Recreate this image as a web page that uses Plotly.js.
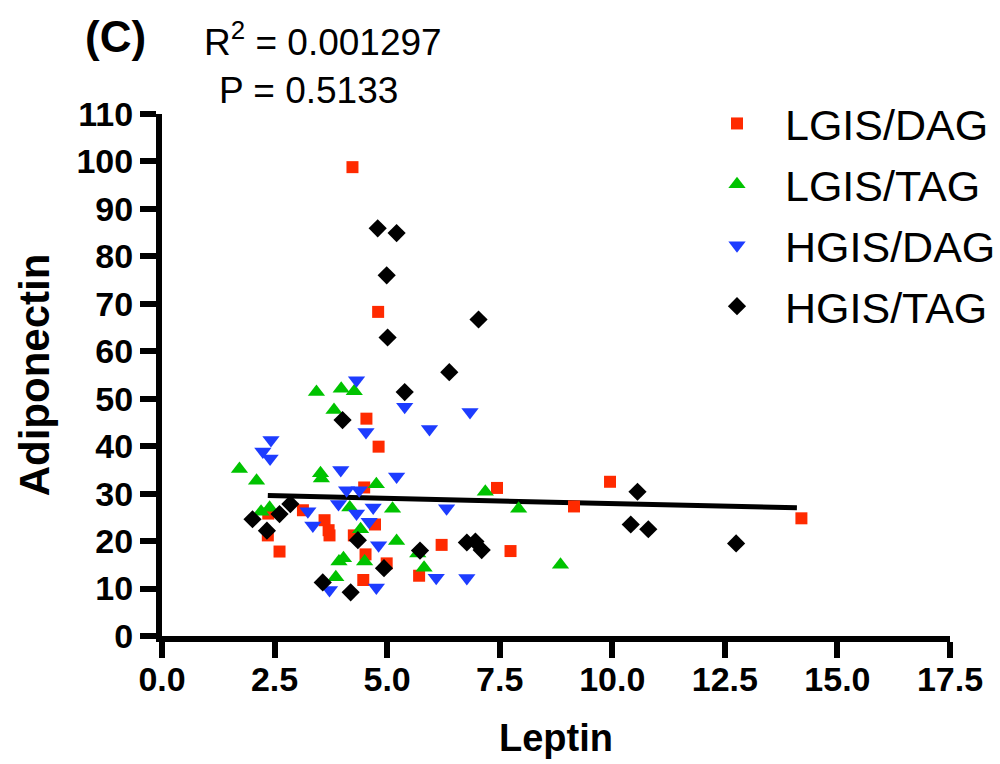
<!DOCTYPE html>
<html>
<head>
<meta charset="utf-8">
<script src="https://cdn.plot.ly/plotly-3.0.1.min.js"></script>
<style>html,body{margin:0;padding:0;background:#fff;}#chart{width:1000px;height:764px;}</style>
</head>
<body>
<div id="chart"></div>
<script>
// Series names
const seriesNames = ["LGIS/DAG", "LGIS/TAG", "HGIS/DAG", "HGIS/TAG"];

// LGIS/DAG
const lgisDagX = [4.23, 4.80, 4.54, 4.81, 4.49, 3.13, 2.36, 3.61, 3.70, 3.72, 2.35, 2.61, 4.26, 4.73, 4.52, 4.99, 4.47, 5.71, 6.21, 7.44, 9.15, 9.95, 7.74, 14.2];
const lgisDagY = [98.8, 68.3, 45.8, 39.9, 31.3, 26.5, 25.8, 24.4, 22.3, 21.2, 21.2, 17.8, 21.2, 23.5, 17.2, 15.3, 11.8, 12.7, 19.2, 31.2, 27.3, 32.5, 17.9, 24.8];

// LGIS/TAG
const lgisTagX = [3.43, 3.98, 4.27, 3.82, 1.72, 2.10, 3.52, 3.54, 4.76, 2.20, 2.39, 4.17, 5.12, 4.41, 5.21, 3.93, 4.03, 4.50, 3.86, 5.68, 5.82, 7.18, 7.92, 8.85];
const lgisTagY = [51.4, 52.1, 51.6, 47.6, 35.2, 32.7, 34.3, 33.2, 32.0, 26.2, 27.0, 27.1, 26.8, 22.5, 20.0, 15.7, 16.4, 15.7, 12.4, 17.4, 14.4, 30.4, 26.8, 15.0];

// HGIS/DAG
const hgisDagX = [4.32, 5.39, 4.53, 5.94, 2.42, 2.24, 2.40, 6.84, 3.97, 5.21, 4.10, 4.38, 3.92, 3.24, 4.32, 4.69, 3.35, 4.60, 4.81, 3.72, 4.76, 6.09, 6.32, 6.77];
const hgisDagY = [53.9, 48.3, 43.0, 43.6, 41.3, 38.9, 37.4, 47.2, 35.0, 33.6, 30.7, 30.7, 27.8, 26.3, 25.8, 27.1, 23.3, 24.1, 19.1, 9.7, 10.2, 12.3, 26.9, 12.2];

// HGIS/TAG
const hgisTagX = [4.79, 5.21, 4.99, 5.01, 6.38, 5.39, 4.01, 7.03, 2.01, 2.33, 2.61, 2.85, 4.35, 4.93, 3.57, 4.19, 5.73, 6.77, 6.96, 7.10, 10.56, 10.41, 10.80, 12.75];
const hgisTagY = [85.9, 84.9, 76.0, 62.9, 55.6, 51.4, 45.5, 66.7, 24.6, 22.2, 25.7, 27.8, 20.2, 14.3, 11.3, 9.2, 18.0, 19.7, 19.9, 18.1, 30.4, 23.5, 22.5, 19.5];

// Linear regression line (end points of fitted line)
const fitX = [2.35, 14.1];
const fitY = [29.6, 27.0];

// Axis ticks
const xTicks = [0, 2.5, 5, 7.5, 10, 12.5, 15, 17.5];
const xTickLabels = ["0.0", "2.5", "5.0", "7.5", "10.0", "12.5", "15.0", "17.5"];
const yTicks = [0, 10, 20, 30, 40, 50, 60, 70, 80, 90, 100, 110];

const statR2 = "R<sup>2</sup> = 0.001297";
const statP = "P = 0.5133";
const panelLabel = "(C)";

const FONT = "Liberation Sans, Arial, Helvetica, sans-serif";

function pts(x, y, name, color, symbol, size, grp) {
  return {
    type: "scatter", mode: "markers", x: x, y: y, name: name,
    legendgroup: grp,
    marker: {color: color, symbol: symbol, size: size, line: {width: 0}},
    cliponaxis: false
  };
}

const traces = [
  {type: "scatter", mode: "lines", x: fitX, y: fitY, showlegend: false,
   line: {color: "#000", width: 5}, hoverinfo: "skip"},
  pts(lgisDagX, lgisDagY, seriesNames[0], "#ff2a00", "square", 12, "a"),
  pts(lgisTagX, lgisTagY, seriesNames[1], "#00c300", "triangle-up", 15, "b"),
  pts(hgisDagX, hgisDagY, seriesNames[2], "#1d3cff", "triangle-down", 15, "c"),
  pts(hgisTagX, hgisTagY, seriesNames[3], "#000000", "diamond", 14, "d")
];

const layout = {
  width: 1000, height: 764,
  margin: {l: 162, r: 50, t: 114, b: 128, pad: 0, autoexpand: false},
  paper_bgcolor: "#fff", plot_bgcolor: "#fff",
  font: {family: FONT, color: "#000"},
  showlegend: true,
  legend: {
    x: (689 - 162) / 788, y: 1 + (114 - 89) / 522, xanchor: "left", yanchor: "top",
    font: {family: FONT, size: 43, color: "#000"},
    tracegroupgap: 2, itemwidth: 86, bgcolor: "rgba(0,0,0,0)"
  },
  xaxis: {
    range: [0, 17.5], tickvals: xTicks, ticktext: xTickLabels,
    showline: true, linecolor: "#000", linewidth: 6,
    ticks: "outside", ticklen: 16, tickwidth: 6, tickcolor: "#000",
    ticklabelstandoff: -8,
    showgrid: false, zeroline: false,
    tickfont: {family: FONT, size: 34, weight: "bold", color: "#000"},
    title: {text: "Leptin", font: {family: FONT, size: 38, weight: "bold"}, standoff: 30}
  },
  yaxis: {
    range: [0, 110], tickvals: yTicks,
    showline: true, linecolor: "#000", linewidth: 6,
    ticks: "outside", ticklen: 16, tickwidth: 6, tickcolor: "#000",
    showgrid: false, zeroline: false,
    tickfont: {family: FONT, size: 34, weight: "bold", color: "#000"},
    title: {text: "Adiponectin", font: {family: FONT, size: 42, weight: "bold"}, standoff: 16}
  },
  annotations: [
    {text: panelLabel, xref: "paper", yref: "paper", x: (115 - 162) / 788, y: (636 - 36) / 522,
     xanchor: "center", yanchor: "middle", showarrow: false,
     font: {family: FONT, size: 44, weight: "bold", color: "#000"}},
    {text: statR2, xref: "paper", yref: "paper", x: (323 - 162) / 788, y: (636 - 40) / 522,
     xanchor: "center", yanchor: "middle", showarrow: false,
     font: {family: FONT, size: 37, color: "#000"}},
    {text: statP, xref: "paper", yref: "paper", x: (308 - 162) / 788, y: (636 - 90) / 522,
     xanchor: "center", yanchor: "middle", showarrow: false,
     font: {family: FONT, size: 37, color: "#000"}}
  ]
};

Plotly.newPlot("chart", traces, layout, {displayModeBar: false, staticPlot: true});
</script>
</body>
</html>
